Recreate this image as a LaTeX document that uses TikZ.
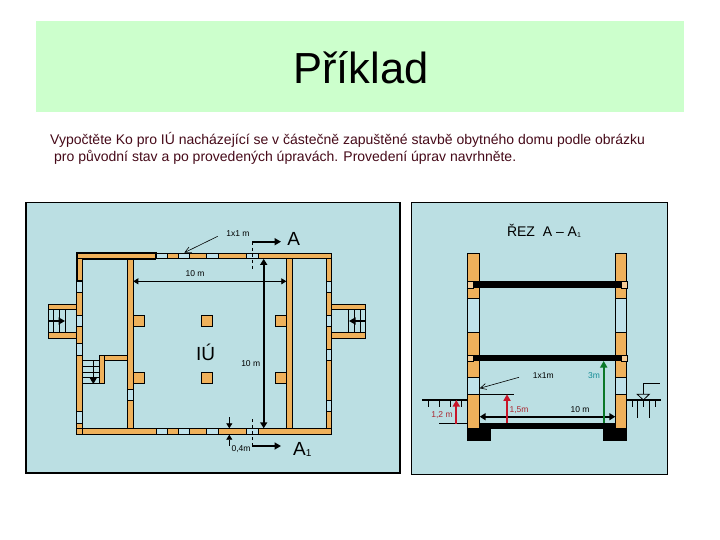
\documentclass[tikz,border=0pt]{standalone}
\usepackage{fontspec}
\setmainfont{Liberation Sans}
\usetikzlibrary{arrows.meta}

\definecolor{bandgreen}{RGB}{204,255,204}
\definecolor{panelblue}{RGB}{187,223,227}
\definecolor{brick}{RGB}{239,177,91}
\definecolor{brickpale}{RGB}{247,205,150}
\definecolor{glass}{RGB}{192,226,234}
\definecolor{bodytext}{RGB}{70,10,25}
\definecolor{redmark}{RGB}{200,20,40}
\definecolor{redtext}{RGB}{170,40,50}
\definecolor{greenmark}{RGB}{10,120,40}
\definecolor{tealtext}{RGB}{20,140,150}

\tikzset{
	wall/.style={draw=black, line width=0.9pt, fill=brick},
	window/.style={draw=black, line width=0.9pt, fill=glass},
	slab/.style={draw=none, fill=black},
	thin line/.style={draw=black, line width=0.8pt},
	dim/.style={draw=black, line width=0.8pt, {Triangle[length=5pt,width=6pt]}-{Triangle[length=5pt,width=6pt]}},
	dimone/.style={draw=black, line width=0.8pt, -{Triangle[length=5pt,width=6pt]}},
	strong/.style={line width=1.7pt, -{Triangle[length=6.5pt,width=7pt]}},
	strongtwo/.style={draw=black, line width=1.7pt, {Triangle[length=6pt,width=7pt]}-{Triangle[length=6pt,width=7pt]}},
	leader/.style={draw=black, line width=0.6pt, -{Straight Barb[length=6pt,width=6pt]}},
	small/.style={font=\fontsize{8.5}{9}\selectfont, inner sep=0pt},
	big/.style={font=\fontsize{19}{21}\selectfont, inner sep=0pt},
}

\begin{document}
\begin{tikzpicture}[x=1pt, y=-1pt]
	\useasboundingbox[fill=white] (0,0) rectangle (720,540);

	% heading
	\fill[bandgreen] (36,21) rectangle (684,112);
	\node[font=\fontsize{43.5}{48}\selectfont, inner sep=0pt] (title) at (361,68) {Příklad};
	\node[anchor=west, text=bodytext, font=\fontsize{14}{16}\selectfont, inner sep=0pt] (line1) at (50,140) {Vypočtěte Ko pro IÚ nacházející se v částečně zapuštěné stavbě obytného domu podle obrázku};
	\node[anchor=west, text=bodytext, font=\fontsize{14}{16}\selectfont, inner sep=0pt] (line2) at (54,157) {pro původní stav a po provedených úpravách. Provedení úprav navrhněte.};

	% panels
	\draw[fill=panelblue, line width=1.8pt] (26,202.5) rectangle (400,473);
	\draw[fill=panelblue, line width=0.9pt] (411.5,202.5) rectangle (667,474);

	% plan: balconies
	\draw[thin line] (48.3,309) -- (48.3,333);
	\draw[thin line] (53.3,309) -- (53.3,333);
	\draw[thin line] (59.3,309) -- (59.3,333);
	\draw[thin line] (65,309) -- (65,333);
	\draw[wall] (48.3,304.3) rectangle (76.7,309.7);
	\draw[wall] (48.3,332.7) rectangle (76.7,338.7);
	\draw[thin line] (348.3,309) -- (348.3,333);
	\draw[thin line] (354.3,309) -- (354.3,333);
	\draw[thin line] (360,309) -- (360,333);
	\draw[thin line] (365.7,309) -- (365.7,333);
	\draw[wall] (331.7,304.3) rectangle (365.7,309.7);
	\draw[wall] (331.7,332.7) rectangle (365.7,338.7);

	% plan: outer walls
	\draw[wall] (76.7,252) rectangle (82.7,434.7);
	\draw[wall] (326,253.5) rectangle (331.7,434.7);
	\draw[wall] (76.7,253.5) rectangle (331.7,258.9);
	\draw[wall] (76.7,428.3) rectangle (331.7,434.7);
	\fill[brick] (77.3,259.5) rectangle (82.1,427.8);
	\fill[brick] (77.3,428.9) rectangle (82.1,434.1);
	\fill[brick] (326.6,259.5) rectangle (331.1,427.8);
	\fill[brick] (326.6,428.9) rectangle (331.1,434.1);
	\draw[draw=black, line width=0.9pt] (82.7,428.3) -- (82.7,434.7);

	% plan: inner walls and stairs
	\draw[wall] (127.7,258.9) rectangle (133.3,428.3);
	\draw[wall] (286.3,258.9) rectangle (292.3,428.3);
	\draw[wall] (99.3,355.7) rectangle (127.7,360.7);
	\draw[wall] (99.3,355.7) rectangle (104.3,383.3);
	\fill[brick] (99.9,356.3) rectangle (103.7,360.1);
	\draw[thin line] (82.7,360.7) -- (99.3,360.7);
	\draw[thin line] (82.7,366.7) -- (99.3,366.7);
	\draw[thin line] (82.7,372.3) -- (99.3,372.3);
	\draw[thin line] (82.7,377.7) -- (99.3,377.7);
	\draw[thin line] (82.7,383.3) -- (99.3,383.3);
	\draw[thin line] (93.3,360.7) -- (93.3,383.3);
	\fill (89.6,377.7) -- (97,377.7) -- (93.3,384) -- cycle;

	% plan: windows
	\draw[window] (156,253.5) rectangle (167.7,258.9);
	\draw[window] (178.3,253.5) rectangle (189.3,258.9);
	\draw[window] (206,253.5) rectangle (218.5,258.9);
	\draw[window] (246.7,253.5) rectangle (258.5,258.9);
	\draw[window] (156,428.3) rectangle (167.7,434.7);
	\draw[window] (178.3,428.3) rectangle (189.3,434.7);
	\draw[window] (206,428.3) rectangle (218.5,434.7);
	\draw[window] (246.7,428.3) rectangle (258.5,434.7);
	\draw[window] (76.7,281) rectangle (82.7,292.5);
	\draw[window] (76.7,315.7) rectangle (82.7,326.5);
	\draw[window] (76.7,343.3) rectangle (82.7,355.7);
	\draw[window] (76.7,411.3) rectangle (82.7,423);
	\draw[window] (326,281) rectangle (331.7,292.5);
	\draw[window] (326,315.7) rectangle (331.7,326.5);
	\draw[window] (326,349.3) rectangle (331.7,360.7);
	\draw[window] (326,400.7) rectangle (331.7,411.7);
	\draw[window] (127.7,389.3) rectangle (133.3,400.7);

	% plan: pillars
	\draw[wall] (133.3,315.3) rectangle (144.7,326.7);
	\draw[wall] (201.3,315.3) rectangle (212.7,326.7);
	\draw[wall] (275.3,315.3) rectangle (286.3,326.7);
	\draw[wall] (133.3,372.3) rectangle (144.7,383.7);
	\draw[wall] (201.3,372.3) rectangle (212.7,383.7);
	\draw[wall] (275.3,372.3) rectangle (286.3,383.7);

	% plan: thick corner
	\draw[line width=1.8pt] (156,259) -- (156,253) -- (77.5,253) -- (77.5,281) -- (82.5,281) -- (82.5,259) -- (156,259);

	% plan: end points of the measures
	\coordinate (balconyL1) at (48.3,321);
	\coordinate (balconyL2) at (65,321);
	\coordinate (balconyR1) at (365.7,321);
	\coordinate (balconyR2) at (349,321);
	\coordinate (widthL) at (133.3,281.3);
	\coordinate (widthR) at (286.3,281.3);
	\coordinate (depthT) at (263.7,258.9);
	\coordinate (depthB) at (263.7,428.3);
	\coordinate (thickT1) at (229.3,417);
	\coordinate (thickT2) at (229.3,428.3);
	\coordinate (thickB1) at (229.3,446);
	\coordinate (thickB2) at (229.3,434.7);
	\coordinate (cutT) at (252.3,241.7);
	\coordinate (cutT2) at (252.3,270.7);
	\coordinate (cutTa) at (281,241.7);
	\coordinate (cutB) at (252.3,446);
	\coordinate (cutB2) at (252.3,417);
	\coordinate (cutBa) at (281,446);
	\coordinate (leadA1) at (217.7,236.3);
	\coordinate (leadA2) at (184.3,252.7);

	\draw[strong] (balconyL1) -- (balconyL2);
	\draw[strong] (balconyR1) -- (balconyR2);
	\draw[dim] (widthL) -- (widthR);
	\draw[strongtwo] (depthT) -- (depthB);
	\draw[dimone] (thickT1) -- (thickT2);
	\draw[dimone] (thickB1) -- (thickB2);
	\draw[strong] (cutT) -- (cutTa);
	\draw[strong] (cutB) -- (cutBa);
	\draw[draw=black, line width=0.6pt, dashed] (cutT) -- (cutT2);
	\draw[draw=black, line width=0.6pt, dashed] (cutB) -- (cutB2);
	\draw[leader] (leadA1) -- (leadA2);

	% plan: labels
	\node[small] (sizeA) at (238,234) {1x1 m};
	\node[big] (markA) at (293.7,239.3) {A};
	\node[small] (width) at (195,274) {10 m};
	\node[big] (room) at (205.7,352) {IÚ};
	\node[small] (depth) at (250.7,364) {10 m};
	\node[small] (thick) at (241,449.3) {0,4m};
	\node[big, anchor=west] (markAone) at (293,449) {A\raisebox{-1pt}{\fontsize{10}{12}\selectfont 1}};

	% section: walls
	\draw[wall] (467.3,253.3) rectangle (479.7,428.3);
	\draw[wall] (615.3,253.3) rectangle (626.7,428.3);
	\draw[window] (467.3,298.3) rectangle (479.7,332.3);
	\draw[window] (615.3,298.3) rectangle (626.7,332.3);
	\draw[window] (467.3,377.3) rectangle (479.7,394.3);
	\draw[window] (615.3,377.3) rectangle (626.7,394.3);

	% section: floors
	\draw[draw=black, line width=0.4pt, fill=brickpale] (467.3,281) rectangle (472.7,288);
	\draw[draw=black, line width=0.4pt, fill=brickpale] (621.3,281) rectangle (626.7,288);
	\draw[draw=black, line width=0.4pt, fill=brickpale] (467.3,355) rectangle (472.7,361);
	\draw[draw=black, line width=0.4pt, fill=brickpale] (621.3,355) rectangle (626.7,361);
	\fill[slab] (472.7,281) rectangle (621.3,288);
	\fill[slab] (472.7,355) rectangle (621.3,361);
	\fill[slab] (479.7,423) rectangle (615.3,428.7);
	\fill[slab] (467.3,428.3) rectangle (491,440.7);
	\fill[slab] (603.3,428.3) rectangle (626.7,440.7);

	% section: ground
	\draw[line width=2pt] (422.3,400) -- (467.3,400);
	\draw[thin line] (428.3,400) -- (428.3,407);
	\draw[thin line] (439.3,400) -- (439.3,407);
	\draw[thin line] (450.7,400) -- (450.7,407);
	\draw[thin line] (461.7,400) -- (461.7,407);
	\draw[line width=2pt] (626.7,400) -- (661,400);
	\draw[thin line] (632,400) -- (632,407);
	\draw[thin line] (637.7,400) -- (637.7,418);
	\draw[thin line] (643.3,400) -- (643.3,407);
	\draw[thin line] (649.3,400) -- (649.3,418);
	\draw[thin line] (655,400) -- (655,407);
	\draw[thin line] (643.3,394) -- (643.3,383) -- (660,383);
	\draw[thin line] (637.3,394.3) -- (649.3,394.3) -- (643.3,400) -- cycle;

	% section: end points of the measures
	\coordinate (groundB) at (456.3,423.7);
	\coordinate (groundT) at (456.3,400);
	\coordinate (groundR1) at (439.3,423.7);
	\coordinate (groundR2) at (467.3,423.7);
	\coordinate (sillB) at (507,423);
	\coordinate (sillT) at (507,394.3);
	\coordinate (sillR1) at (479.7,394.3);
	\coordinate (sillR2) at (514,394.3);
	\coordinate (heightB) at (603.7,423);
	\coordinate (heightT) at (603.7,361);
	\coordinate (spanL) at (479.7,416.7);
	\coordinate (spanR) at (615.3,416.7);
	\coordinate (leadB1) at (519,377.3);
	\coordinate (leadB2) at (479.7,388.3);

	\draw[thin line] (groundR1) -- (groundR2);
	\draw[thin line] (sillR1) -- (sillR2);
	\draw[strongtwo] (spanL) -- (spanR);
	\draw[strong, draw=redmark] (groundB) -- (groundT);
	\draw[strong, draw=redmark] (sillB) -- (sillT);
	\draw[strong, draw=greenmark] (heightB) -- (heightT);
	\draw[leader] (leadB1) -- (leadB2);

	% section: labels
	\node[font=\fontsize{14}{15}\selectfont, inner sep=0pt] (cut) at (544,231) {ŘEZ\ \ A – A\raisebox{-0.5pt}{\fontsize{7}{8}\selectfont 1}};
	\node[small] (sizeB) at (543.3,376) {1x1m};
	\node[small, text=tealtext] (height) at (594,375.7) {3m};
	\node[small, text=redtext] (ground) at (442,415.3) {1,2 m};
	\node[small, text=redtext] (sill) at (519,410.3) {1,5m};
	\node[small] (span) at (580,410) {10 m};
\end{tikzpicture}
\end{document}
